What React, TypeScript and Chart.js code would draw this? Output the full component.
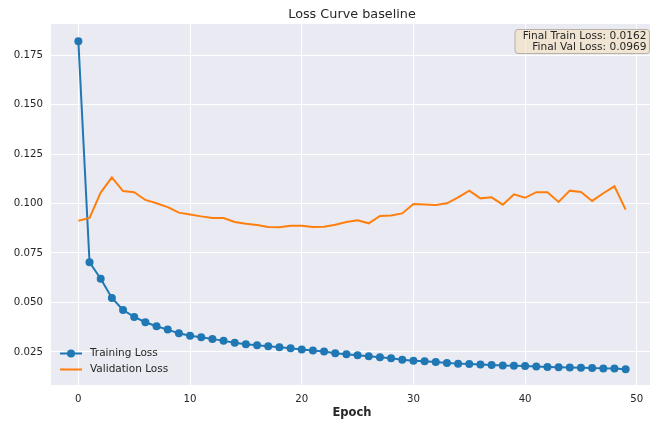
import { useEffect, useRef } from "react";
import { Chart, registerables } from "chart.js";

Chart.register(...registerables);

const chartTitle = "Loss Curve baseline";
const xAxisLabel = "Epoch";
const seriesNames = ["Training Loss", "Validation Loss"];

const trainLoss = [
  0.182, 0.0703, 0.062, 0.0523, 0.0462, 0.0427, 0.04, 0.038, 0.0363, 0.0344,
  0.0332, 0.0324, 0.0316, 0.0306, 0.0297, 0.0289, 0.0284, 0.0279, 0.0274, 0.0269,
  0.0262, 0.0257, 0.0252, 0.0243, 0.0238, 0.0233, 0.0228, 0.0223, 0.0218, 0.0211,
  0.0206, 0.0203, 0.0199, 0.0194, 0.0191, 0.0189, 0.0186, 0.0184, 0.0181, 0.018,
  0.0179, 0.0176, 0.0174, 0.0173, 0.0171, 0.017, 0.0169, 0.0167, 0.0166, 0.0162,
];

const valLoss = [
  0.0913, 0.0927, 0.1055, 0.1132, 0.1063, 0.1057, 0.1018, 0.1001, 0.0982, 0.0954,
  0.0945, 0.0935, 0.0927, 0.0927, 0.0907, 0.0898, 0.0891, 0.0881, 0.088, 0.0888,
  0.0888, 0.0881, 0.0883, 0.0893, 0.0907, 0.0915, 0.09, 0.0937, 0.094, 0.095,
  0.0997, 0.0995, 0.0992, 0.1001, 0.1031, 0.1065, 0.1026, 0.1031, 0.0994, 0.1046,
  0.1029, 0.1057, 0.1057, 0.1008, 0.1065, 0.1058, 0.1013, 0.1052, 0.1087, 0.0969,
];

const epochs = trainLoss.map((_, i) => i);

const yTicks = [0.025, 0.05, 0.075, 0.1, 0.125, 0.15, 0.175];
const xTicks = [0, 10, 20, 30, 40, 50];

const TRAIN_COLOR = "#1f77b4";
const VAL_COLOR = "#ff7f0e";
const TEXT_COLOR = "#262626";
const FONT = "'DejaVu Sans'";

export default function App() {
  const ref = useRef<HTMLCanvasElement>(null);

  useEffect(() => {
    const canvas = ref.current;
    if (!canvas) return;

    const overlay = {
      id: "overlay",
      beforeDraw(chart: any) {
        const { ctx, chartArea: a } = chart;
        ctx.save();
        ctx.fillStyle = "#EAEAF2";
        ctx.fillRect(a.left, a.top, a.right - a.left, a.bottom - a.top);
        ctx.restore();
      },
      afterDraw(chart: any) {
        const { ctx, chartArea: a } = chart;
        ctx.save();
        // title
        ctx.fillStyle = TEXT_COLOR;
        ctx.font = `12.8px ${FONT}`;
        ctx.textAlign = "center";
        ctx.textBaseline = "alphabetic";
        ctx.fillText(chartTitle, (a.left + a.right) / 2, 18);

        // legend
        const lx = a.left + 9;
        const rows = [
          { y: 353.5, color: TRAIN_COLOR, marker: true, name: seriesNames[0] },
          { y: 369.5, color: VAL_COLOR, marker: false, name: seriesNames[1] },
        ];
        for (const r of rows) {
          ctx.strokeStyle = r.color;
          ctx.lineWidth = 2;
          ctx.beginPath();
          ctx.moveTo(lx, r.y);
          ctx.lineTo(lx + 22, r.y);
          ctx.stroke();
          if (r.marker) {
            ctx.fillStyle = r.color;
            ctx.beginPath();
            ctx.arc(lx + 11, r.y, 4, 0, Math.PI * 2);
            ctx.fill();
          }
          ctx.fillStyle = TEXT_COLOR;
          ctx.font = `10.5px ${FONT}`;
          ctx.textAlign = "left";
          ctx.textBaseline = "middle";
          ctx.fillText(r.name, lx + 30, r.y);
        }

        // annotation box
        const bx0 = 515;
        const bx1 = 649.5;
        const by0 = 29.5;
        const by1 = 53.5;
        ctx.beginPath();
        (ctx as any).roundRect(bx0, by0, bx1 - bx0, by1 - by0, 3);
        ctx.fillStyle = "rgba(245, 222, 179, 0.5)";
        ctx.fill();
        ctx.strokeStyle = "rgba(150, 140, 125, 0.6)";
        ctx.lineWidth = 1;
        ctx.stroke();
        ctx.fillStyle = TEXT_COLOR;
        ctx.font = `10.6px ${FONT}`;
        ctx.textAlign = "right";
        ctx.textBaseline = "alphabetic";
        ctx.fillText(
          `Final Train Loss: ${trainLoss[trainLoss.length - 1].toFixed(4)}`,
          646.5,
          38.5
        );
        ctx.fillText(
          `Final Val Loss: ${valLoss[valLoss.length - 1].toFixed(4)}`,
          646.5,
          49.5
        );
        ctx.restore();
      },
    };

    const chart = new Chart(canvas, {
      type: "line",
      data: {
        datasets: [
          {
            label: seriesNames[0],
            data: epochs.map((e, i) => ({ x: e, y: trainLoss[i] })),
            borderColor: TRAIN_COLOR,
            backgroundColor: TRAIN_COLOR,
            borderWidth: 2,
            pointRadius: 4,
            pointBorderWidth: 0,
            pointBackgroundColor: TRAIN_COLOR,
            tension: 0,
            order: 1,
          },
          {
            label: seriesNames[1],
            data: epochs.map((e, i) => ({ x: e, y: valLoss[i] })),
            borderColor: VAL_COLOR,
            backgroundColor: VAL_COLOR,
            borderWidth: 2,
            pointRadius: 0,
            tension: 0,
            order: 0,
          },
        ],
      },
      options: {
        responsive: false,
        animation: false,
        devicePixelRatio: 1,
        layout: { padding: { top: 24, left: 0, right: 0, bottom: 0 } },
        plugins: {
          legend: { display: false },
          tooltip: { enabled: false },
          title: { display: false },
        },
        scales: {
          x: {
            type: "linear",
            min: -2.45,
            max: 51.45,
            border: { display: false },
            grid: { color: "#ffffff", lineWidth: 1, drawTicks: false },
            ticks: {
              padding: 8,
              color: TEXT_COLOR,
              font: { family: FONT, size: 10.2 },
              maxRotation: 0,
              callback: (v: any) => String(v),
            },
            title: {
              display: true,
              text: xAxisLabel,
              color: TEXT_COLOR,
              font: { family: FONT, size: 11.5, weight: "bold" },
              padding: { top: 0, bottom: 2.6 },
            },
            afterBuildTicks: (scale: any) => {
              scale.ticks = xTicks.map((v) => ({ value: v }));
            },
            afterFit: (scale: any) => {
              scale.height = 38;
              scale.paddingLeft = 0;
              scale.paddingRight = 0;
            },
          },
          y: {
            type: "linear",
            min: 0.0083,
            max: 0.1907,
            border: { display: false },
            grid: { color: "#ffffff", lineWidth: 1, drawTicks: false },
            ticks: {
              padding: 8,
              color: TEXT_COLOR,
              font: { family: FONT, size: 10.2 },
              callback: (v: any) => Number(v).toFixed(3),
            },
            afterBuildTicks: (scale: any) => {
              scale.ticks = yTicks.map((v) => ({ value: v }));
            },
            afterFit: (scale: any) => {
              scale.width = 51;
              scale.paddingTop = 0;
              scale.paddingBottom = 0;
            },
          },
        },
      },
      plugins: [overlay],
    } as any);

    return () => chart.destroy();
  }, []);

  return (
    <div
      style={{
        position: "absolute",
        left: 0,
        top: 0,
        width: 650,
        height: 423,
        overflow: "hidden",
        background: "#ffffff",
      }}
    >
      <canvas ref={ref} width={657} height={423} style={{ display: "block" }} />
    </div>
  );
}
